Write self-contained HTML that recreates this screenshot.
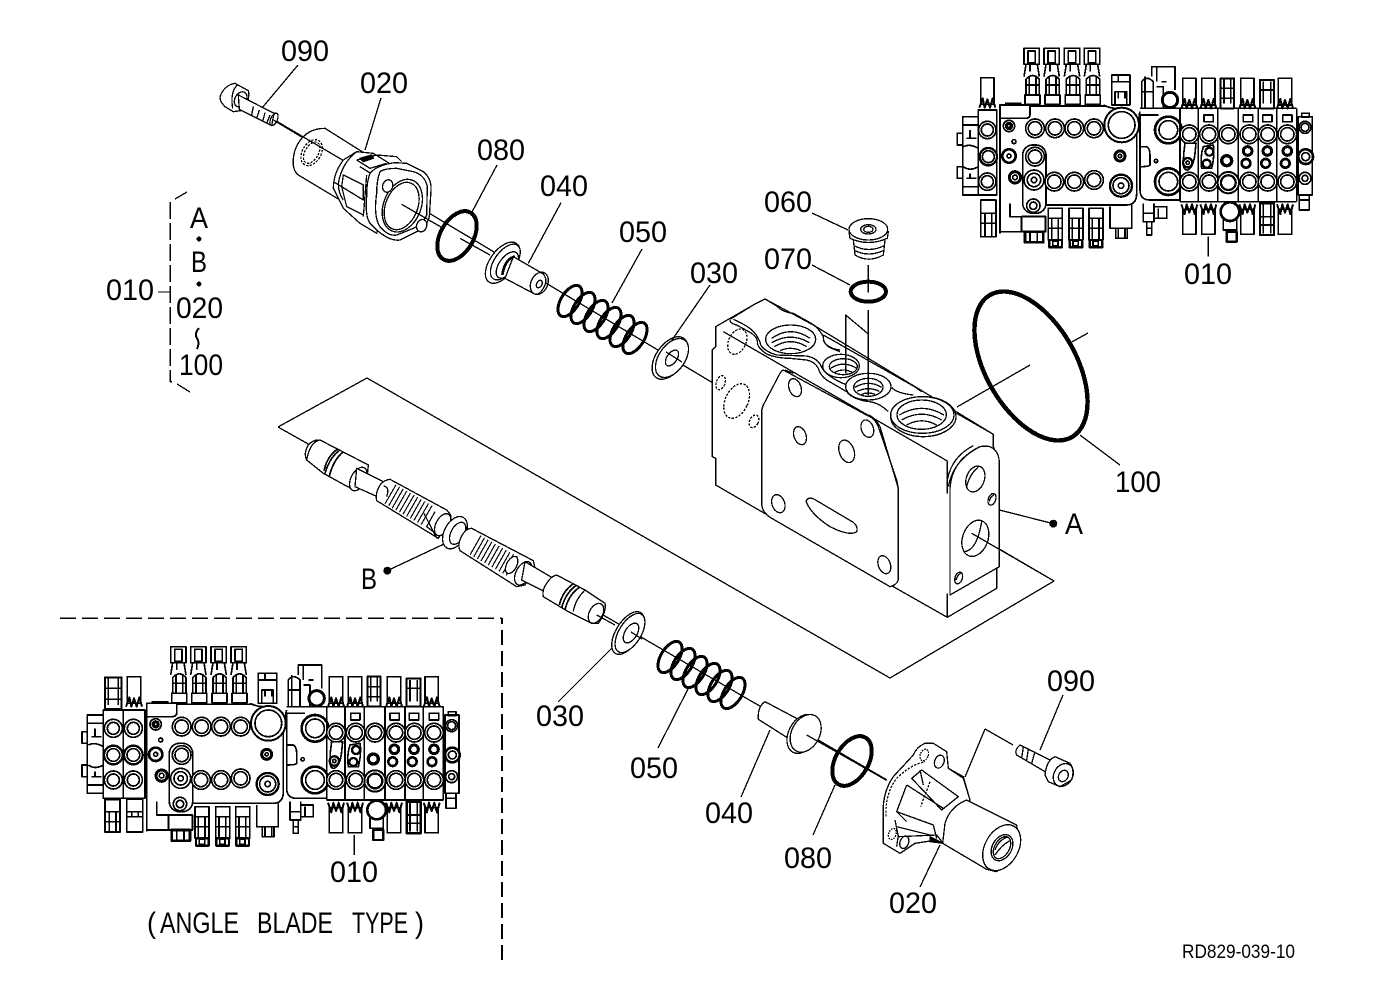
<!DOCTYPE html>
<html><head><meta charset="utf-8"><title>Diagram</title>
<style>
html,body{margin:0;padding:0;background:#fff;width:1379px;height:1001px;overflow:hidden}
svg{display:block}
text{font-family:"Liberation Sans",sans-serif;fill:#000;stroke:none;font-size:30px}
.s{font-size:19px}
</style></head><body>
<svg xmlns="http://www.w3.org/2000/svg" xmlns:xlink="http://www.w3.org/1999/xlink" width="1379" height="1001" viewBox="0 0 1379 1001" fill="none" stroke="#000" stroke-width="1.3" stroke-linejoin="round" shape-rendering="crispEdges">
<defs>
<g id="k">
 <rect x="222" y="25" width="46" height="48" stroke-width="5"/><rect x="234" y="33" width="22" height="36" stroke-width="5"/>
 <path d="M228,73 L222,110 M262,73 L268,110 M240,73V95" stroke-width="5"/>
 <path d="M228,165V118Q248,95 268,118V165M238,110V165M258,110V165M228,135H268" stroke-width="5"/>
 <rect x="225" y="165" width="45" height="28" stroke-width="5"/>
</g>
<g id="cap"><rect x="0" y="0" width="40" height="80" stroke-width="5"/><path d="M-4,90 L6,62 L12,90 L20,65 L28,90 L36,62 L44,90" stroke-width="6"/></g>
<g id="capb"><rect x="0" y="20" width="40" height="75" stroke-width="5"/><path d="M-4,5 L6,34 L12,5 L20,30 L28,5 L36,34 L44,5" stroke-width="6"/></g>
<g id="cc"><circle r="28" stroke-width="5"/><circle r="20" stroke-width="5"/></g>
<g id="v" stroke-width="5">
 <use xlink:href="#k"/><use xlink:href="#k" x="60"/><use xlink:href="#k" x="121"/><use xlink:href="#k" x="181"/>
 <rect x="485" y="105" width="55" height="90"/><path d="M485,125H540M505,105V125M505,175V155H525V175"/><rect x="495" y="155" width="35" height="40"/>
 <path d="M150,580V195H240V225Q240,235 225,235H150M240,198H470M460,195Q480,205 500,205M560,240V460Q560,495 530,495H290M150,575H215M180,490V530H215M165,190H215"/>
 <circle cx="515" cy="255" r="52" stroke-width="6" fill="#fff"/><circle cx="515" cy="255" r="40"/>
 <g fill="#fff">
 <use xlink:href="#cc" x="255" y="265"/><use xlink:href="#cc" x="315" y="265"/><use xlink:href="#cc" x="373" y="265"/><use xlink:href="#cc" x="432" y="265"/>
 <rect x="218" y="315" width="70" height="205" rx="30"/>
 <use xlink:href="#cc" x="255" y="350"/>
 <use xlink:href="#cc" x="313" y="425"/><use xlink:href="#cc" x="373" y="425"/><use xlink:href="#cc" x="432" y="420"/>
 <circle cx="252" cy="420" r="30"/><circle cx="252" cy="420" r="20"/><circle cx="252" cy="420" r="8"/>
 <circle cx="250" cy="497" r="20"/><circle cx="250" cy="497" r="11"/>
 <circle cx="177" cy="258" r="17"/><circle cx="177" cy="258" r="10"/><circle cx="177" cy="258" r="5"/>
 <circle cx="177" cy="348" r="20" stroke-width="8"/><circle cx="177" cy="348" r="6"/>
 <circle cx="510" cy="348" r="15" stroke-width="9"/><circle cx="510" cy="348" r="5"/>
 <circle cx="513" cy="437" r="33" stroke-width="7"/><circle cx="513" cy="437" r="24"/><circle cx="513" cy="437" r="8"/>
 <circle cx="192" cy="305" r="6"/>
 <circle cx="195" cy="412" r="17" stroke-width="9"/><circle cx="195" cy="412" r="7"/>
 </g>
 <path d="M570,205H690M570,215Q565,230 570,240M625,225H570V450Q570,480 600,480H690M570,320H590Q600,325 600,345V375Q598,380 570,380"/>
 <circle cx="618" cy="363" r="5"/>
 <g fill="#fff"><circle cx="655" cy="270" r="40" stroke-width="8"/><circle cx="655" cy="270" r="28"/><circle cx="655" cy="425" r="40" stroke-width="8"/><circle cx="655" cy="425" r="28"/></g>
 <path d="M690,205V485M745,205V485M803,205V485M865,205V485M925,205V485M980,205V485M1040,205V485M690,205H1040M690,485H1040"/>
 <use xlink:href="#cap" x="698" y="115"/><use xlink:href="#cap" x="755" y="115"/><use xlink:href="#cap" x="872" y="115"/><use xlink:href="#cap" x="985" y="115"/>
 <rect x="812" y="115" width="40" height="90" stroke-width="6"/><path d="M822,115V190M842,115V190M812,145H852M810,175H855"/>
 <rect x="930" y="120" width="42" height="85" stroke-width="6"/><path d="M940,125V190M962,125V190M930,150H972"/>
 <use xlink:href="#capb" x="698" y="488"/><use xlink:href="#capb" x="755" y="488"/><use xlink:href="#capb" x="872" y="488"/><use xlink:href="#capb" x="985" y="488"/>
 <rect x="930" y="490" width="42" height="95" stroke-width="7"/><path d="M940,490V580M962,490V580M930,530H972M930,555H972"/>
 <path d="M762,225H790V245H762ZM880,225H908V245H880ZM938,225H966V245H938ZM998,225H1026V245H998Z"/>
 <g fill="#fff">
 <use xlink:href="#cc" x="718" y="283"/><use xlink:href="#cc" x="777" y="283"/><use xlink:href="#cc" x="835" y="283"/><use xlink:href="#cc" x="898" y="283"/><use xlink:href="#cc" x="953" y="283"/><use xlink:href="#cc" x="1012" y="283"/>
 <use xlink:href="#cc" x="718" y="425"/><use xlink:href="#cc" x="777" y="425"/><circle cx="835" cy="428" r="32" stroke-width="6"/><circle cx="835" cy="428" r="22" stroke-width="7"/><use xlink:href="#cc" x="898" y="425"/><use xlink:href="#cc" x="953" y="425"/><use xlink:href="#cc" x="1012" y="425"/>
 <path d="M705,310Q700,340 700,370Q700,390 712,390Q730,385 735,340L738,310Z"/>
 <circle cx="713" cy="368" r="14" stroke-width="7"/><circle cx="713" cy="368" r="5"/>
 <path d="M760,320L790,315Q795,345 785,385H755Q750,350 760,320Z"/>
 <circle cx="778" cy="335" r="12" stroke-width="7"/><circle cx="770" cy="371" r="12" stroke-width="7"/>
 <circle cx="830" cy="362" r="15" stroke-width="10"/>
 <circle cx="893" cy="333" r="13" stroke-width="9"/><circle cx="888" cy="370" r="13" stroke-width="8"/>
 <circle cx="952" cy="333" r="13" stroke-width="9"/><circle cx="947" cy="370" r="13" stroke-width="8"/>
 <circle cx="1012" cy="333" r="13" stroke-width="9"/><circle cx="1006" cy="370" r="13" stroke-width="8"/>
 </g>
 <rect x="1045" y="230" width="42" height="235"/>
 <g fill="#fff"><circle cx="1065" cy="262" r="18"/><circle cx="1065" cy="262" r="12"/><circle cx="1067" cy="350" r="22" stroke-width="8"/><circle cx="1067" cy="350" r="12"/><circle cx="1065" cy="415" r="18"/><circle cx="1065" cy="415" r="9"/></g>
 <rect x="1048" y="465" width="30" height="45"/><path d="M1055,220H1078V232H1055ZM1048,480H1078"/>
 <path d="M605,110V80H675V150M620,80V125"/>
 <path d="M575,205V125Q590,105 610,125V205M575,155H610M585,110V205"/><path d="M620,140H640V205M635,125H650"/>
 <circle cx="660" cy="180" r="23" stroke-width="9" fill="#fff"/>
 <path d="M580,490V545H612V490M578,520H615M590,545V585H605V545M590,565H605"/><path d="M612,500H650V535H612M625,505V535"/>
 <rect x="295" y="505" width="42" height="95"/><path d="M295,535H337M295,565H337M305,535V600M325,535V600"/><rect x="298" y="600" width="38" height="22" stroke-width="7"/><rect x="308" y="603" width="16" height="15"/>
 <rect x="357" y="505" width="42" height="95"/><path d="M357,535H399M357,565H399M367,535V600M387,535V600"/><rect x="359" y="600" width="38" height="22" stroke-width="7"/><rect x="369" y="603" width="16" height="15"/>
 <rect x="417" y="505" width="42" height="95"/><path d="M417,535H459M417,565H459M427,535V600M447,535V600"/><rect x="419" y="600" width="38" height="22" stroke-width="7"/><rect x="429" y="603" width="16" height="15"/>
 <rect x="497" y="565" width="35" height="30"/><path d="M505,565V595M525,565V595M480,500V565H545V495"/>
 <rect x="215" y="530" width="72" height="45" stroke-width="6"/><rect x="225" y="575" width="55" height="32" stroke-width="8"/><path d="M240,575V605M262,575V605"/>
 <circle cx="840" cy="515" r="28" stroke-width="8" fill="#fff"/><path d="M820,535V570H860V535"/><rect x="830" y="575" width="30" height="30" stroke-width="7"/>
</g>
</defs>

<!-- plane and axes -->
<path d="M278,427L367,378L890,678L1054,581L972,533M278,427L310,445"/>
<path d="M270,118L713,383"/>
<path d="M598,612L887,780"/>
<path d="M985,729L965,777M985,729L1013,745"/>
<path d="M957,407L1030,365M1070,343L1088,333"/>

<!-- block -->
<g transform="translate(680,280) scale(.33333)" stroke-width="3.9">
 <path fill="#fff" d="M107,140L225,72L255,57L400,135L730,335L940,463V500L958,545V860L950,865V925L802,1012L640,920L245,695L107,615V535L97,530V210L107,200Z"/>
 <path d="M107,140L225,72L255,57L290,78Q310,98 340,100L385,125Q415,140 430,170Q430,195 455,205L480,215M430,165L730,335M830,400L940,463V500M130,155L802,543M802,543V640M802,940V1012L950,925V865M107,140V200L97,210V530L107,535V615L245,695M640,920L802,1012"/>
 <path d="M150,120Q150,130 170,135L215,160Q235,175 232,190Q235,205 260,222Q290,235 330,235L380,240Q405,245 415,265Q420,285 440,300L500,335Q520,360 570,365Q600,370 625,395"/>
 <path d="M225,72L150,118M160,118Q210,140 225,160Q240,180 242,195Q255,215 290,225L380,228Q415,235 425,262Q440,290 500,315M430,180Q440,205 480,210M635,322Q650,340 700,345M710,325L725,335"/>
 <path fill="#fff" d="M300,280L250,375L245,390V670Q245,695 270,712L630,920Q650,915 655,900V625L650,600L595,440Q585,415 565,408L310,270Q305,272 300,280Z"/>
 <path d="M565,405Q585,412 600,440L655,625M315,270L340,280"/>
 <g stroke-dasharray="7 4"><ellipse cx="172" cy="185" rx="26" ry="40" transform="rotate(25 172 185)"/><ellipse cx="122" cy="308" rx="13" ry="22" transform="rotate(20 122 308)"/><ellipse cx="170" cy="363" rx="34" ry="55" transform="rotate(25 170 363)"/><ellipse cx="222" cy="424" rx="13" ry="20" transform="rotate(25 222 424)"/></g>
 <ellipse cx="345" cy="323" rx="18" ry="28" transform="rotate(-20 345 323)"/>
 <ellipse cx="360" cy="467" rx="18" ry="28" transform="rotate(-20 360 467)"/>
 <ellipse cx="500" cy="514" rx="22" ry="35" transform="rotate(-20 500 514)"/>
 <ellipse cx="562" cy="446" rx="18" ry="27" transform="rotate(-20 562 446)"/>
 <ellipse cx="295" cy="671" rx="19" ry="28" transform="rotate(-20 295 671)"/>
 <ellipse cx="613" cy="854" rx="18" ry="28" transform="rotate(-20 613 854)"/>
 <path d="M378,665Q385,645 410,662L520,727Q535,740 530,755Q510,770 450,740Q395,705 378,665Z"/>
 <g fill="#fff">
 <ellipse cx="332" cy="178" rx="75" ry="43"/>
 <ellipse cx="483" cy="258" rx="55" ry="35"/>
 <ellipse cx="565" cy="320" rx="68" ry="40"/>
 <ellipse cx="730" cy="410" rx="98" ry="60"/>
 <ellipse cx="727" cy="405" rx="95" ry="55"/>
 </g>
 <path d="M275,175Q332,135 390,175M275,188Q332,155 388,188M283,200Q332,170 380,200M300,212Q332,198 362,212"/>
 <ellipse cx="490" cy="260" rx="42" ry="24"/><path d="M452,265Q490,240 530,265M462,278Q490,262 518,278"/>
 <ellipse cx="565" cy="322" rx="44" ry="27"/><path d="M525,322Q565,298 605,322M532,334Q565,318 598,334M545,343Q565,335 585,343"/>
 <ellipse cx="725" cy="404" rx="74" ry="44"/><path d="M658,405Q725,365 792,405M665,420Q725,385 785,420M680,435Q725,410 770,435"/>
 <path d="M497,280V105L565,162M565,90V345"/>
 <path fill="#fff" d="M810,945V625Q815,545 890,505Q905,495 930,500Q955,510 958,545V860Z"/>
 <path d="M802,640V600Q815,530 880,497M805,620Q820,540 900,500"/>
 <ellipse cx="886" cy="597" rx="27" ry="40" transform="rotate(20 886 597)"/><path d="M860,620Q870,580 895,562"/>
 <ellipse cx="936" cy="658" rx="11" ry="18" transform="rotate(20 936 658)"/><path d="M928,665Q930,650 942,645"/>
 <ellipse cx="886" cy="775" rx="38" ry="56" transform="rotate(20 886 775)"/><path d="M850,815Q890,815 905,725"/>
 <ellipse cx="836" cy="894" rx="11" ry="18" transform="rotate(20 836 894)"/><path d="M828,900Q832,885 842,880"/>
 <path d="M875,760L1122,903M958,690L1120,731"/>
 <circle cx="1120" cy="731" r="10" fill="#000"/>
</g>

<!-- upper 090 + 020 -->
<g transform="translate(200,60) scale(.33333)" stroke-width="3.9">
 <path fill="#fff" d="M105,70L145,92Q150,110 135,150L100,155L75,140Q55,120 62,105Q75,75 105,70Z"/>
 <path d="M112,75Q90,95 98,145"/><ellipse cx="122" cy="118" rx="17" ry="24" transform="rotate(30 122 118)"/>
 <path fill="#fff" d="M115,105L222,160L215,197L118,148Z"/>
 <path d="M160,140L155,165M178,150L170,175M195,158L188,185M210,165L200,190"/>
 <ellipse cx="222" cy="178" rx="10" ry="20" transform="rotate(25 222 178)"/>
 <path fill="#fff" d="M375,205Q310,205 285,270Q270,325 295,345L420,420L510,290Z"/>
 <ellipse cx="335" cy="278" rx="28" ry="42" transform="rotate(30 335 278)" stroke-dasharray="7 4"/><ellipse cx="335" cy="278" rx="20" ry="35" transform="rotate(30 335 278)" stroke-dasharray="7 4"/>
 <path d="M232,185L470,325"/>
 <path fill="#fff" d="M470,275L430,300Q400,340 400,385L430,445L480,490L530,520L600,330L520,280Z"/>
 <path d="M470,275Q425,310 415,370Q415,400 430,420M470,300L530,285L590,290L605,305M470,300L510,325L560,310M480,320L560,370M430,345L425,380L490,420V375ZM425,380L440,440L490,465M500,345L490,470M400,365L490,420"/>
 <path d="M480,295L515,285L520,295L490,305Z" fill="#000"/>
 <path fill="#fff" d="M510,340Q530,315 585,308L620,310L670,335Q695,355 693,390L688,470Q685,490 660,510L600,540Q570,545 530,510L510,490Q495,470 500,410Q500,365 510,340Z"/>
 <path d="M540,335Q555,325 590,325L640,335Q675,345 682,380L680,465Q670,490 640,505L590,525Q565,530 540,500Q520,470 530,400Q530,360 540,335Z"/>
 <ellipse cx="607" cy="437" rx="56" ry="82" transform="rotate(22 607 437)" fill="#fff"/>
 <ellipse cx="605" cy="438" rx="48" ry="74" transform="rotate(22 605 438)"/>
 <ellipse cx="563" cy="378" rx="15" ry="19" transform="rotate(20 563 378)" fill="#fff"/>
 <ellipse cx="665" cy="497" rx="15" ry="19" transform="rotate(20 665 497)" fill="#fff"/>
 <path d="M605,433L730,505M780,535L870,585"/>
</g>
<ellipse cx="457" cy="236" rx="27" ry="16.5" transform="rotate(-60 457 236)" stroke-width="4"/>

<!-- 040 upper -->
<g transform="translate(480,200) scale(.33333)" stroke-width="3.9">
 <ellipse cx="68" cy="188" rx="71" ry="38" transform="rotate(-54 68 188)" fill="#fff"/>
 <ellipse cx="76" cy="186" rx="62" ry="32" transform="rotate(-54 76 186)" fill="#fff"/>
 <ellipse cx="82" cy="195" rx="46" ry="24" transform="rotate(-54 82 195)"/>
 <path fill="#fff" d="M100,170L190,222Q205,240 190,265Q175,290 160,280L75,235Z"/>
 <path d="M105,170Q75,175 67,225" stroke-width="8"/>
 <ellipse cx="178" cy="250" rx="25" ry="35" transform="rotate(25 178 250)"/>
 <ellipse cx="178" cy="252" rx="8" ry="12" transform="rotate(30 178 252)"/>
 <path d="M243,8L145,190"/>
</g>

<!-- springs -->
<g stroke-width="3">
 <ellipse cx="570" cy="301" rx="17.5" ry="9" transform="rotate(-58 570 301)"/><ellipse cx="583" cy="308" rx="17.5" ry="9" transform="rotate(-58 583 308)"/><ellipse cx="596" cy="316" rx="17.5" ry="9" transform="rotate(-58 596 316)"/><ellipse cx="609" cy="323" rx="17.5" ry="9" transform="rotate(-58 609 323)"/><ellipse cx="622" cy="331" rx="17.5" ry="9" transform="rotate(-58 622 331)"/><ellipse cx="635" cy="338" rx="17.5" ry="9" transform="rotate(-58 635 338)"/>
 <ellipse cx="670" cy="657" rx="17.5" ry="9" transform="rotate(-58 670 657)"/><ellipse cx="683" cy="664" rx="17.5" ry="9" transform="rotate(-58 683 664)"/><ellipse cx="695" cy="672" rx="17.5" ry="9" transform="rotate(-58 695 672)"/><ellipse cx="708" cy="679" rx="17.5" ry="9" transform="rotate(-58 708 679)"/><ellipse cx="720" cy="686" rx="17.5" ry="9" transform="rotate(-58 720 686)"/><ellipse cx="733" cy="693" rx="17.5" ry="9" transform="rotate(-58 733 693)"/>
</g>

<!-- washers -->
<ellipse cx="670" cy="358" rx="24" ry="14" transform="rotate(-55 670 358)" fill="#fff"/><ellipse cx="672" cy="358" rx="22" ry="13" transform="rotate(-55 672 358)" fill="#fff"/><ellipse cx="672" cy="358" rx="9" ry="5" transform="rotate(-55 672 358)"/>
<path d="M666,352L682,362"/>
<ellipse cx="628" cy="633" rx="24" ry="12" transform="rotate(-58 628 633)" fill="#fff"/><ellipse cx="630" cy="633" rx="22" ry="11" transform="rotate(-58 630 633)" fill="#fff"/><ellipse cx="631" cy="633" rx="11" ry="6" transform="rotate(-58 631 633)"/>
<path d="M631,632L642,639"/>

<!-- 060 / 070 -->
<g transform="translate(830,205) scale(.33333)" stroke-width="3.9">
 <path fill="#fff" d="M70,105L75,150Q115,175 160,150L165,105Z"/>
 <path d="M72,122Q115,145 163,122M73,136Q115,158 162,136"/>
 <path fill="#fff" d="M57,80L60,100Q115,125 172,100L175,80Z"/>
 <ellipse cx="115" cy="73" rx="58" ry="32" fill="#fff"/>
 <ellipse cx="115" cy="73" rx="23" ry="14"/><ellipse cx="115" cy="73" rx="14" ry="9"/>
 <ellipse cx="115" cy="260" rx="53" ry="30" stroke-width="12"/>
 <path d="M115,180V262"/>
</g>

<!-- O-ring 100 -->
<ellipse cx="1031" cy="366" rx="82" ry="45" transform="rotate(60 1031 366)" stroke-width="4.4"/>

<!-- spool -->
<g transform="translate(290,430) scale(.33333)" stroke-width="3.9">
 <path fill="#fff" d="M90,30L235,105L232,135L195,182L100,130L50,90Q40,70 55,45Q70,28 90,30Z"/>
 <path d="M90,30Q60,35 50,90"/>
 <path d="M150,60Q120,80 105,130M160,65Q130,90 118,138M142,58Q112,78 102,122" stroke-width="5"/>
 <ellipse cx="205" cy="147" rx="22" ry="38" transform="rotate(28 205 147)" fill="#fff"/>
 <path fill="#fff" d="M200,115L280,155L262,200L195,170Z"/>
 <path fill="#fff" d="M300,148L470,240Q490,260 480,270L445,325L260,212Q255,190 270,165Q282,150 300,148Z"/>
 <path d="M280,168Q300,170 290,200"/>
 <path d="M300,192L415,258" stroke-width="66" stroke-dasharray="3.5 9"/>
 <path d="M402,250L440,325M435,245L410,290L450,320" />
 <ellipse cx="458" cy="284" rx="20" ry="36" transform="rotate(28 458 284)" fill="#fff"/>
 <ellipse cx="495" cy="308" rx="32" ry="52" transform="rotate(28 495 308)" fill="#fff"/>
 <ellipse cx="503" cy="310" rx="20" ry="36" transform="rotate(28 503 310)" fill="#fff"/>
 <path fill="#fff" d="M545,295L730,392L735,415L705,465L680,470L510,362Q500,340 520,310Q530,295 545,295Z"/>
 <path d="M555,345L670,410" stroke-width="66" stroke-dasharray="3.5 9"/>
 <ellipse cx="665" cy="405" rx="15" ry="28" transform="rotate(28 665 405)" fill="#fff"/>
 <ellipse cx="700" cy="430" rx="22" ry="38" transform="rotate(28 700 430)" fill="#fff"/>
 <path fill="#fff" d="M705,395L790,445L765,485L695,450Z"/>
 <path fill="#fff" d="M800,435L885,480L945,520Q950,545 925,580L905,580L835,545L760,500Q755,480 770,460Q785,437 800,435Z"/>
 <path d="M860,465Q825,490 815,535M868,472Q835,495 825,540M852,460Q818,482 808,525" stroke-width="5"/>
 <ellipse cx="918" cy="550" rx="20" ry="32" transform="rotate(28 918 550)"/>
 <path d="M885,480Q855,510 850,545M920,555L975,585"/>
 <path d="M462,342L292,422"/>
 <circle cx="292" cy="422" r="10" fill="#000"/>
</g>

<!-- lower 040, 020, 090 -->
<g transform="translate(750,680) scale(.33333)" stroke-width="3.9">
 <path fill="#fff" d="M45,65L145,118L115,175L25,118Q22,80 45,65Z"/>
 <ellipse cx="158" cy="162" rx="42" ry="62" transform="rotate(28 158 162)" fill="#fff"/>
 <ellipse cx="167" cy="160" rx="42" ry="60" transform="rotate(28 167 160)" fill="#fff"/>
 <path d="M170,165L408,300"/>
 <path fill="#fff" d="M525,190Q500,200 490,225L430,290Q395,340 400,410V490L450,520L495,490L560,480L600,500L660,360L640,290L595,265L590,215L550,190Z"/>
 <path d="M408,410Q405,340 440,295Q480,255 525,245" stroke-dasharray="7 4"/>
 <path d="M595,265L640,295L660,360M485,295L515,270L625,350L575,390ZM510,270L520,315M470,315L440,395L550,435L560,475M470,315L580,385M440,395L470,425M435,420L445,470L560,465L580,490M440,440L540,465M440,500L445,465"/>
 <path d="M540,470L580,490L540,485Z" fill="#000"/>
 <path d="M540,305L512,380" stroke-dasharray="7 4"/>
 <ellipse cx="523" cy="225" rx="12" ry="18" transform="rotate(20 523 225)" stroke-dasharray="5 3"/>
 <ellipse cx="568" cy="245" rx="14" ry="20" transform="rotate(20 568 245)"/>
 <ellipse cx="463" cy="487" rx="13" ry="19" transform="rotate(20 463 487)"/>
 <ellipse cx="427" cy="462" rx="11" ry="17" transform="rotate(20 427 462)" stroke-dasharray="5 3"/>
 <path fill="#fff" d="M650,360L800,435L810,500L740,575L710,568L578,490L585,430Q600,380 650,360Z"/>
 <ellipse cx="755" cy="503" rx="50" ry="74" transform="rotate(30 755 503)" fill="#fff"/>
 <ellipse cx="756" cy="503" rx="29" ry="42" transform="rotate(30 756 503)"/>
 <ellipse cx="756" cy="503" rx="22" ry="36" transform="rotate(30 756 503)"/>
 <path d="M735,510Q745,480 775,470M735,525Q755,495 780,482"/>
 <path fill="#fff" d="M810,195L900,240L885,275L800,225Q792,210 810,195Z"/>
 <path d="M820,200L815,235M835,208L830,240M855,215L845,250"/>
 <path fill="#fff" d="M915,230L960,250Q975,270 965,300L930,320L895,305L885,285Q890,240 915,230Z"/>
 <ellipse cx="940" cy="285" rx="28" ry="36" transform="rotate(30 940 285)"/><ellipse cx="940" cy="288" rx="14" ry="18" transform="rotate(30 940 288)"/>
</g>
<ellipse cx="852" cy="761" rx="27" ry="16.5" transform="rotate(-60 852 761)" stroke-width="4"/>

<!-- valve assemblies -->
<g transform="translate(950,40) scale(.33333)" stroke-width="5">
 <use xlink:href="#v"/>
 <path d="M775,590V650"/>
 <rect x="85" y="210" width="55" height="255"/>
 <use xlink:href="#cap" x="92" y="113"/>
 <rect x="92" y="480" width="46" height="110"/><path d="M92,520H138M92,550H138M105,520V590M125,520V590"/>
 <path d="M85,230H38V465H85M38,255H85M38,440H85"/>
 <path d="M60,270V295M50,295H80M60,400V415M50,415H80M40,320Q60,310 85,325M40,380Q60,395 85,380"/>
 <rect x="22" y="280" width="16" height="35"/><rect x="22" y="380" width="16" height="35"/>
 <g fill="#fff"><circle cx="112" cy="270" r="26"/><circle cx="112" cy="270" r="18"/><circle cx="115" cy="350" r="26" stroke-width="7"/><circle cx="115" cy="350" r="18"/><circle cx="112" cy="425" r="26"/><circle cx="112" cy="425" r="18"/></g>
</g>
<g transform="translate(70,640) scale(.33333)" stroke-width="5">
 <g transform="translate(80,-5)"><use xlink:href="#v"/></g>
 <path d="M853,585V645"/>
 <rect x="100" y="210" width="60" height="265"/><rect x="160" y="210" width="65" height="265"/>
 <rect x="105" y="112" width="50" height="95" stroke-width="6"/><path d="M115,115V195M145,115V195M105,145H155M103,178H157"/>
 <use xlink:href="#cap" x="172" y="110"/>
 <rect x="105" y="478" width="45" height="98" stroke-width="6"/><path d="M105,515H150M105,545H150M118,515V575M138,515V575"/>
 <rect x="170" y="478" width="48" height="98"/><path d="M170,515H218M170,530H218M185,515V530M205,515V530"/>
 <path d="M100,225H52V460H100M52,250H100M52,435H100"/>
 <path d="M75,265V290M65,290H95M75,395V410M65,410H95M55,315Q75,305 100,320M55,375Q75,390 100,375"/>
 <rect x="36" y="275" width="16" height="35"/><rect x="36" y="375" width="16" height="35"/>
 <g fill="#fff">
 <circle cx="130" cy="265" r="27"/><circle cx="130" cy="265" r="18"/><circle cx="130" cy="345" r="28" stroke-width="7"/><circle cx="130" cy="345" r="19"/><circle cx="130" cy="420" r="27"/><circle cx="130" cy="420" r="18"/>
 <circle cx="190" cy="265" r="27"/><circle cx="190" cy="265" r="18"/><circle cx="190" cy="345" r="28" stroke-width="7"/><circle cx="190" cy="345" r="19"/><circle cx="190" cy="420" r="27"/><circle cx="190" cy="420" r="18"/>
 </g>
</g>

<!-- leaders -->
<path d="M298,65L262,108M381,98L365,150M497,165L472,212M642,249L612,303M710,285L672,340M812,213L848,230M812,265L850,285M1080,435L1120,465M1063,695L1040,750M558,702L612,648M658,748L689,687M741,797L770,730M813,835L835,785M920,887L940,845"/>

<!-- bracket -->
<path d="M175,199L187,192M177,384L190,392"/>
<path d="M170,202V380Q170,382 172,382" stroke-dasharray="17 4" stroke-width="1.5"/>
<path d="M158,292H170"/>
<circle cx="199" cy="239" r="2.4" fill="#000" stroke="none"/><circle cx="199" cy="284" r="2.4" fill="#000" stroke="none"/>
<path d="M199,328Q194,334 197,338Q200,343 197,349" stroke-width="2"/>

<!-- dashed frame -->
<path d="M60,618H502" stroke-dasharray="16 6" stroke-width="1.5"/>
<path d="M502,960V618" stroke-dasharray="15 6" stroke-width="1.8"/>

<!-- labels -->
<text x="281" y="61" textLength="48" lengthAdjust="spacingAndGlyphs">090</text>
<text x="360" y="93" textLength="48" lengthAdjust="spacingAndGlyphs">020</text>
<text x="477" y="160" textLength="48" lengthAdjust="spacingAndGlyphs">080</text>
<text x="540" y="196" textLength="48" lengthAdjust="spacingAndGlyphs">040</text>
<text x="619" y="242" textLength="48" lengthAdjust="spacingAndGlyphs">050</text>
<text x="690" y="283" textLength="48" lengthAdjust="spacingAndGlyphs">030</text>
<text x="764" y="212" textLength="48" lengthAdjust="spacingAndGlyphs">060</text>
<text x="764" y="269" textLength="48" lengthAdjust="spacingAndGlyphs">070</text>
<text x="1184" y="284" textLength="48" lengthAdjust="spacingAndGlyphs">010</text>
<text x="1115" y="492" textLength="46" lengthAdjust="spacingAndGlyphs">100</text>
<text x="1065" y="534" textLength="18" lengthAdjust="spacingAndGlyphs">A</text>
<text x="361" y="589" textLength="16" lengthAdjust="spacingAndGlyphs">B</text>
<text x="106" y="300" textLength="48" lengthAdjust="spacingAndGlyphs">010</text>
<text x="190" y="228" textLength="18" lengthAdjust="spacingAndGlyphs">A</text>
<text x="191" y="272" textLength="16" lengthAdjust="spacingAndGlyphs">B</text>
<text x="176" y="318" textLength="47" lengthAdjust="spacingAndGlyphs">020</text>
<text x="179" y="375" textLength="44" lengthAdjust="spacingAndGlyphs">100</text>
<text x="1047" y="691" textLength="48" lengthAdjust="spacingAndGlyphs">090</text>
<text x="536" y="726" textLength="48" lengthAdjust="spacingAndGlyphs">030</text>
<text x="630" y="778" textLength="48" lengthAdjust="spacingAndGlyphs">050</text>
<text x="705" y="823" textLength="48" lengthAdjust="spacingAndGlyphs">040</text>
<text x="784" y="868" textLength="48" lengthAdjust="spacingAndGlyphs">080</text>
<text x="889" y="913" textLength="48" lengthAdjust="spacingAndGlyphs">020</text>
<text x="330" y="882" textLength="48" lengthAdjust="spacingAndGlyphs">010</text>
<text x="147" y="933" textLength="9" lengthAdjust="spacingAndGlyphs">(</text>
<text x="160" y="933" textLength="79" lengthAdjust="spacingAndGlyphs">ANGLE</text>
<text x="257" y="933" textLength="76" lengthAdjust="spacingAndGlyphs">BLADE</text>
<text x="352" y="933" textLength="56" lengthAdjust="spacingAndGlyphs">TYPE</text>
<text x="415" y="933" textLength="9" lengthAdjust="spacingAndGlyphs">)</text>
<text class="s" x="1182" y="958" textLength="113" lengthAdjust="spacingAndGlyphs">RD829-039-10</text>
</svg>
</body></html>
